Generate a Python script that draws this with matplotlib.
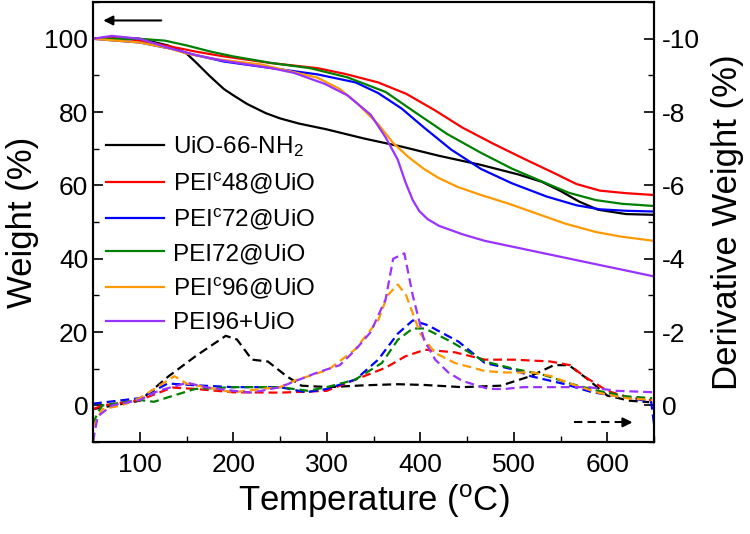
import numpy as np
import matplotlib
matplotlib.use("Agg")
import matplotlib.pyplot as plt
from matplotlib.ticker import MultipleLocator

plt.rcParams['font.family'] = ['Liberation Sans', 'DejaVu Sans']
plt.rcParams['mathtext.fontset'] = 'custom'
plt.rcParams['mathtext.rm'] = 'Liberation Sans'
plt.rcParams['mathtext.it'] = 'Liberation Sans:italic'
plt.rcParams['axes.unicode_minus'] = False

# ---- TGA weight curves (%) ----
t_uio = [50, 70, 100, 130, 150, 160, 175, 190, 200, 215, 235, 250, 270, 300, 340, 380, 420, 465, 505, 530, 550, 570, 590, 620, 650]
w_uio = [100, 100.5, 100, 98.2, 96, 93.6, 89.8, 86.3, 84.6, 82.2, 79.7, 78.3, 76.9, 75.3, 72.8, 70.6, 68.1, 65.6, 63, 61, 58.5, 55.6, 53.4, 52.2, 52]

t_c48 = [50, 70, 100, 135, 160, 190, 240, 290, 320, 355, 385, 415, 445, 478, 510, 543, 567, 592, 620, 650]
w_c48 = [100, 100.5, 99.5, 97.8, 96.5, 95.2, 93.4, 92, 90.4, 88.1, 85, 80.6, 75.8, 71.4, 67.4, 63.4, 60.4, 58.6, 57.9, 57.4]

t_c72 = [50, 100, 135, 159, 190, 241, 290, 331, 355, 380, 404, 433, 465, 498, 535, 567, 592, 620, 650]
w_c72 = [100, 99, 97.2, 95.6, 93.8, 92, 90.3, 88.1, 85.2, 81, 75.8, 69.8, 64.5, 60.6, 57, 54.6, 53.5, 53.1, 52.9]

t_p72 = [50, 100, 127, 150, 176, 200, 241, 282, 322, 363, 396, 429, 465, 498, 531, 559, 588, 616, 650]
w_p72 = [100, 100, 99.5, 98.2, 96.5, 95.2, 93.4, 92, 89.5, 85.5, 79.7, 74, 68.9, 64.6, 61, 58, 56, 55, 54.4]

t_c96 = [50, 100, 130, 150, 180, 230, 253, 290, 314, 331, 355, 371, 388, 404, 420, 440, 465, 495, 525, 555, 588, 616, 650]
w_c96 = [100, 99, 97.5, 96, 94.5, 93, 91.6, 89.4, 86.3, 82.8, 76.7, 71.6, 67.6, 64.5, 62, 59.6, 57.4, 55, 52.3, 49.6, 47.3, 46, 44.9]

t_p96 = [50, 70, 100, 130, 159, 190, 241, 265, 298, 322, 347, 363, 376, 384, 392, 399, 408, 420, 445, 469, 510, 551, 592, 624, 650]
w_p96 = [100, 100.8, 100, 97.6, 95.6, 94, 92, 90.7, 87.7, 84.6, 79.3, 73.1, 67, 61, 56, 53, 50.8, 49, 46.7, 44.9, 42.7, 40.5, 38.3, 36.6, 35.2]

# ---- derivative weight curves (%/C, right axis) ----
dt_uio = [50, 100, 131, 160, 192, 204, 220, 237, 257, 273, 302, 340, 376, 404, 445, 486, 518, 543, 559, 580, 600, 624, 645]
d_uio = [0.1, -0.13, -0.8, -1.35, -1.9, -1.8, -1.25, -1.2, -0.8, -0.54, -0.5, -0.55, -0.58, -0.56, -0.5, -0.54, -0.8, -1.1, -1.1, -0.7, -0.27, -0.13, -0.09]

dt_c48 = [50, 60, 100, 135, 160, 200, 250, 300, 322, 363, 384, 405, 437, 469, 500, 539, 560, 575, 600, 625, 648]
d_c48 = [0.1, 0, -0.15, -0.49, -0.45, -0.36, -0.35, -0.4, -0.62, -1.03, -1.34, -1.52, -1.45, -1.25, -1.25, -1.2, -1.1, -0.8, -0.4, -0.2, -0.15]

dt_c72 = [50, 100, 130, 160, 200, 250, 278, 300, 331, 355, 376, 392, 408, 441, 469, 500, 518, 555, 584, 625, 647, 650]
d_c72 = [-0.05, -0.2, -0.6, -0.55, -0.5, -0.5, -0.36, -0.45, -0.71, -1.25, -1.96, -2.32, -2.19, -1.74, -1.16, -0.98, -0.8, -0.58, -0.36, -0.2, -0.1, 0.5]

dt_p72 = [50, 55, 60, 100, 115, 140, 159, 200, 250, 280, 300, 330, 359, 376, 392, 405, 433, 469, 500, 530, 560, 590, 620, 648]
d_p72 = [0.5, 0.2, 0, -0.15, -0.1, -0.3, -0.45, -0.5, -0.5, -0.4, -0.5, -0.7, -1.16, -1.79, -2.1, -2.1, -1.74, -1.2, -1.0, -0.85, -0.6, -0.4, -0.25, -0.2]

dt_c96 = [50, 60, 80, 100, 137, 150, 170, 200, 230, 250, 265, 302, 330, 355, 365, 376, 385, 400, 416, 437, 469, 490, 520, 540, 560, 590, 620, 648]
d_c96 = [0.6, 0.1, 0, -0.2, -0.8, -0.6, -0.5, -0.36, -0.45, -0.5, -0.67, -0.98, -1.52, -2.32, -3.0, -3.3, -3.0, -1.96, -1.43, -1.16, -0.94, -0.9, -0.9, -0.8, -0.6, -0.35, -0.2, -0.15]

dt_p96 = [50, 55, 70, 100, 120, 151, 170, 200, 220, 250, 270, 290, 314, 330, 347, 363, 371, 383, 392, 404, 416, 430, 445, 473, 490, 510, 551, 580, 610, 650]
d_p96 = [0.98, 0.3, 0, -0.15, -0.4, -0.62, -0.5, -0.4, -0.35, -0.5, -0.7, -0.9, -1.1, -1.5, -2.0, -2.9, -4.0, -4.15, -3.0, -1.79, -1.25, -0.9, -0.67, -0.45, -0.45, -0.5, -0.5, -0.5, -0.4, -0.36]

labels = ['UiO-66-NH$_2$', r'PEI$^\mathrm{c}$48@UiO', r'PEI$^\mathrm{c}$72@UiO',
          'PEI72@UiO', r'PEI$^\mathrm{c}$96@UiO', 'PEI96+UiO']
colors = ['black', '#ff0000', '#0000ff', '#008000', '#ff9900', '#9933ff']

fig = plt.figure(figsize=(7.5, 5.34), dpi=100)
ax = fig.add_axes([0.124, 0.172, 0.748, 0.824])
ax2 = ax.twinx()

weights = [(t_uio, w_uio), (t_c48, w_c48), (t_c72, w_c72), (t_p72, w_p72), (t_c96, w_c96), (t_p96, w_p96)]
derivs = [(dt_uio, d_uio), (dt_c48, d_c48), (dt_c72, d_c72), (dt_p72, d_p72), (dt_c96, d_c96), (dt_p96, d_p96)]

for (t, w), lab, c in zip(weights, labels, colors):
    ax.plot(t, w, color=c, lw=1.6, label=lab)
for (t, d), c in zip(derivs, colors):
    ax2.plot(t, d, color=c, lw=1.6, ls=(0, (4, 2.2)))

ax.set_xlim(50, 650)
ax.set_ylim(-10, 110)
ax2.set_ylim(1, -11)

ax.xaxis.set_major_locator(MultipleLocator(100))
ax.xaxis.set_minor_locator(MultipleLocator(50))
ax.yaxis.set_minor_locator(MultipleLocator(10))
ax.set_yticks([0, 20, 40, 60, 80, 100])
ax2.set_yticks([0, -2, -4, -6, -8, -10])
ax2.yaxis.set_minor_locator(MultipleLocator(1))

for a in (ax, ax2):
    a.tick_params(which='major', direction='in', length=7, width=1.2, labelsize=19)
    a.tick_params(which='minor', direction='in', length=4, width=1.0)
    for s in a.spines.values():
        s.set_linewidth(1.5)
ax.tick_params(axis='both', which='both', top=False, right=False)
ax.tick_params(axis='x', pad=8)
ax2.tick_params(axis='y', pad=6)

ax.set_xlabel(r'Temperature ($^\mathrm{o}$C)', fontsize=25, labelpad=4)
ax.set_ylabel('Weight (%)', fontsize=25, labelpad=4)
ax2.set_ylabel('Derivative Weight (%)', fontsize=25, labelpad=8)

# direction arrows
ax.annotate('', xy=(58, 105), xytext=(126, 105),
            arrowprops=dict(arrowstyle='-|>', color='black', lw=1.5, mutation_scale=14))
ax.plot([564, 620], [-4.6, -4.6], color='black', lw=1.5, ls=(0, (4, 2.5)))
ax.annotate('', xy=(630, -4.6), xytext=(618, -4.6),
            arrowprops=dict(arrowstyle='-|>', color='black', lw=1.5, mutation_scale=14))

ax.legend(loc='upper left', bbox_to_anchor=(0.141, 0.748), bbox_transform=fig.transFigure,
          frameon=False, fontsize=17.5, handlelength=2.4, handletextpad=0.35,
          labelspacing=0.45, borderpad=0, borderaxespad=0)

fig.savefig('out.png', dpi=100)
